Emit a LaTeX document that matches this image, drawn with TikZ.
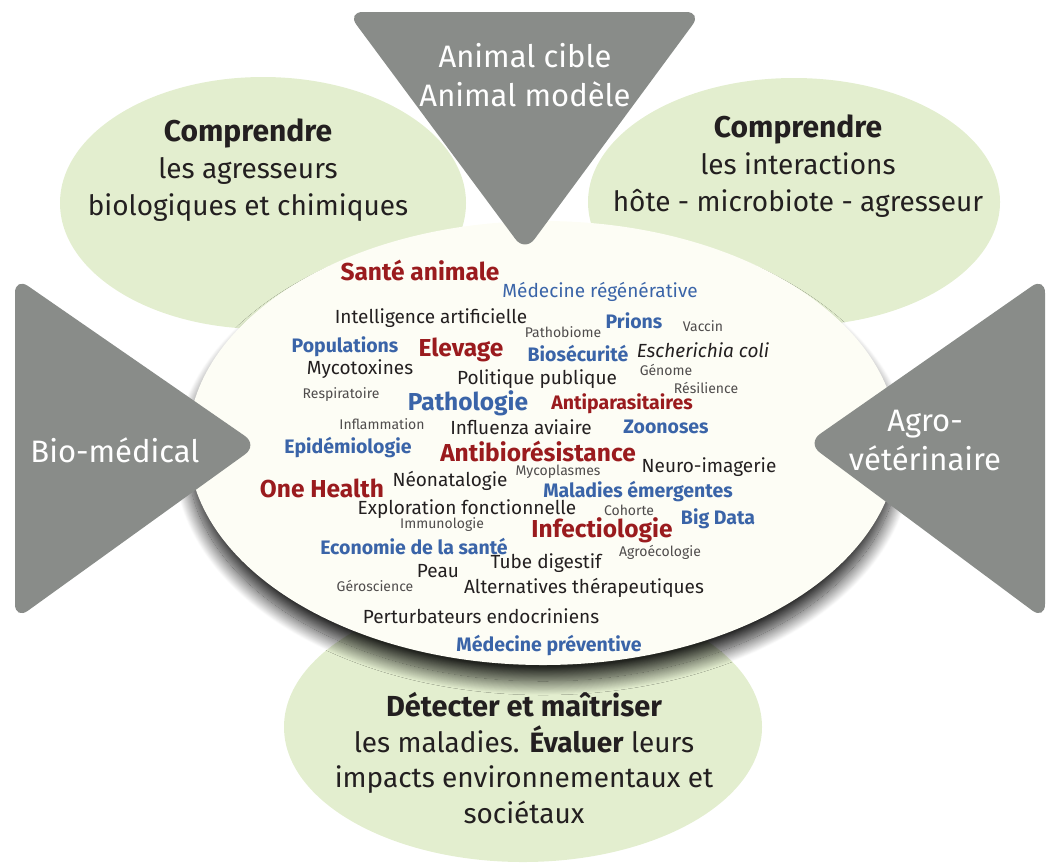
\documentclass[tikz,border=0pt]{standalone}
\usepackage{fontspec}
\setmainfont{Fira Sans}
\usepackage{xcolor}
\usetikzlibrary{shadows.blur}
\definecolor{gris}{RGB}{137,140,137}
\definecolor{vert}{RGB}{227,238,207}
\definecolor{creme}{RGB}{253,253,245}
\definecolor{rouge}{RGB}{154,27,30}
\definecolor{bleu}{RGB}{58,100,168}
\definecolor{noir}{RGB}{35,31,32}

\begin{document}
\begin{tikzpicture}[x=1pt,y=-1pt,inner sep=0pt,
  titre/.style={text=noir, align=center, font=\fontsize{28}{37}\selectfont},
  blanc/.style={text=white, align=center, font=\fontsize{31}{39}\selectfont},
  rougeG/.style={text=rouge, font=\bfseries\fontsize{24.5}{25}\selectfont},
  rougeM/.style={text=rouge, font=\bfseries\fontsize{19.5}{20}\selectfont},
  bleuM/.style={text=bleu, font=\bfseries\fontsize{19.5}{20}\selectfont},
  bleuG/.style={text=bleu, font=\bfseries\fontsize{24.5}{25}\selectfont},
  bleuR/.style={text=bleu, font=\fontsize{19}{20}\selectfont},
  noirM/.style={text=noir, font=\fontsize{19}{20}\selectfont},
  noirP/.style={text=noir!80, font=\fontsize{14}{14}\selectfont}]
\useasboundingbox (0,0) rectangle (1056,863);

\fill[vert] (263,203) ellipse [x radius=203, y radius=126];
\fill[vert] (794,202) ellipse [x radius=206, y radius=124];
\fill[vert] (523,727) ellipse [x radius=239, y radius=135];
\fill[creme, blur shadow={shadow xshift=0pt, shadow yshift=-16pt, shadow blur radius=14pt, shadow blur steps=30, shadow opacity=85}]
  (543,443) ellipse [x radius=355, y radius=222];
\fill[gris, rounded corners=16pt] (347,12) -- (702,12) -- (525,252) -- cycle;
\fill[gris, rounded corners=16pt] (15,277) -- (258,445) -- (15,620) -- cycle;
\fill[gris, rounded corners=16pt] (1045,277) -- (807,443) -- (1045,620) -- cycle;

\node[blanc] (cible) at (525,75) {Animal cible\\Animal modèle};
\node[blanc] (biomed) at (115,450) {Bio-médical};
\node[blanc] (agro) at (925,440) {Agro-\\vétérinaire};

\node[titre] (agresseurs) at (248,170) {{\bfseries\fontsize{30}{37}\selectfont Comprendre}\\les agresseurs\\biologiques et chimiques};
\node[titre] (interactions) at (798,166) {{\bfseries\fontsize{30}{37}\selectfont Comprendre}\\les interactions\\hôte - microbiote - agresseur};
\node[titre, font=\fontsize{28}{35.5}\selectfont] (maladies) at (524,758) {{\bfseries\fontsize{29}{35.5}\selectfont Détecter et maîtriser}\\les maladies. \textbf{Évaluer} leurs\\impacts environnementaux et\\sociétaux};

\node[rougeG] (sante) at (420,270) {Santé animale};
\node[bleuR] (regen) at (600,292) {Médecine régénérative};
\node[noirM] (ia) at (431,318) {Intelligence artificielle};
\node[noirP] (pathobiome) at (563,332) {Pathobiome};
\node[bleuM] (prions) at (634,321) {Prions};
\node[noirP] (vaccin) at (703,326) {Vaccin};
\node[bleuM] (populations) at (345,347) {Populations};
\node[rougeG] (elevage) at (461,350) {Elevage};
\node[bleuM] (biosecurite) at (578,354) {Biosécurité};
\node[noirM, font=\itshape\fontsize{19}{20}\selectfont] (ecoli) at (703,350) {Escherichia coli};
\node[noirM] (mycotoxines) at (360,369) {Mycotoxines};
\node[noirM] (politique) at (537,379) {Politique publique};
\node[noirP] (genome) at (666,370) {Génome};
\node[noirP] (resilience) at (706,388) {Résilience};
\node[noirP] (respiratoire) at (341,395) {Respiratoire};
\node[bleuG] (pathologie) at (468,403) {Pathologie};
\node[rougeM] (antiparasitaires) at (622,404) {Antiparasitaires};
\node[noirP] (inflammation) at (382,424) {Inflammation};
\node[noirM] (influenza) at (521,427) {Influenza aviaire};
\node[bleuM] (zoonoses) at (666,427) {Zoonoses};
\node[bleuM] (epidemiologie) at (348,448) {Epidémiologie};
\node[rougeG] (antibio) at (538,451) {Antibiorésistance};
\node[noirP] (mycoplasmes) at (558,472) {Mycoplasmes};
\node[noirM] (neuro) at (709,467) {Neuro-imagerie};
\node[rougeG] (onehealth) at (322,488) {One Health};
\node[noirM] (neonatalogie) at (450,481) {Néonatalogie};
\node[bleuM] (emergentes) at (638,492) {Maladies émergentes};
\node[noirM] (exploration) at (467,509) {Exploration fonctionnelle};
\node[noirP] (cohorte) at (629,510) {Cohorte};
\node[noirP] (immunologie) at (442,525) {Immunologie};
\node[rougeG] (infectiologie) at (602,530) {Infectiologie};
\node[bleuM] (bigdata) at (718,519) {Big Data};
\node[bleuM] (economie) at (414,547) {Economie de la santé};
\node[noirP] (agroecologie) at (660,552) {Agroécologie};
\node[noirM] (tube) at (546,563) {Tube digestif};
\node[noirM] (peau) at (438,571) {Peau};
\node[noirP] (geroscience) at (375,586) {Géroscience};
\node[noirM] (alternatives) at (584,588) {Alternatives thérapeutiques};
\node[noirM] (perturbateurs) at (481,616) {Perturbateurs endocriniens};
\node[bleuM] (preventive) at (549,646) {Médecine préventive};
\end{tikzpicture}
\end{document}
